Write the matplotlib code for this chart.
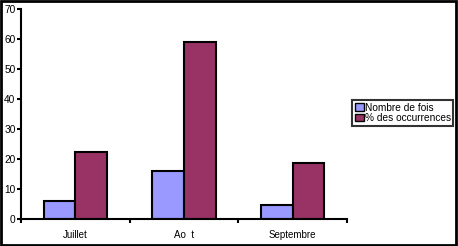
import matplotlib.pyplot as plt
import numpy as np
from matplotlib.patches import Rectangle

categories = ["Juillet", "Ao  t", "Septembre"]
nombre = [6, 16, 4.7]
pourcent = [22.4, 59, 18.7]

plt.rcParams['font.family'] = ['Liberation Sans', 'DejaVu Sans']

fig = plt.figure(figsize=(4.58, 2.46), dpi=100)
ax = fig.add_axes([21 / 458, 1 - 219 / 246, 326 / 458, 210 / 246])

x = np.arange(len(categories))
w = 0.29
ax.bar(x - w / 2, nombre, w, color="#9999ff", edgecolor="black", linewidth=1.5,
       label="Nombre de fois")
ax.bar(x + w / 2, pourcent, w, color="#993366", edgecolor="black", linewidth=1.5,
       label="% des occurrences")

ax.set_xlim(-0.5, 2.5)
ax.set_ylim(0, 70)
ax.set_yticks(range(0, 71, 10))
ax.set_xticks([-0.5, 0.5, 1.5, 2.5])
ax.set_xticklabels([])
ax.set_xticks(x, minor=True)
ax.set_xticklabels(categories, minor=True)
ax.tick_params(axis="x", which="minor", length=0, pad=8, labelsize=7)
ax.tick_params(axis="x", which="major", length=3, width=1.5, direction="out")
ax.tick_params(axis="y", length=3, width=1.5, labelsize=7.3, pad=1)
for s in ["top", "right"]:
    ax.spines[s].set_visible(False)
for s in ["left", "bottom"]:
    ax.spines[s].set_linewidth(1.5)

leg = fig.legend(loc="upper left", bbox_to_anchor=(352 / 458, 1 - 100 / 246),
                 fontsize=7.3, frameon=True, fancybox=False, handlelength=0.9,
                 handleheight=0.8, handletextpad=0.1, borderpad=0.25,
                 labelspacing=0.05, borderaxespad=0)
leg.get_frame().set_edgecolor("black")
leg.get_frame().set_linewidth(1.5)
for h in leg.legend_handles:
    h.set_linewidth(1)

fig.patches.append(Rectangle((0.002, 0.004), 0.994, 0.992, transform=fig.transFigure,
                             fill=False, edgecolor="black", linewidth=2))

fig.savefig("out.png", dpi=100)
